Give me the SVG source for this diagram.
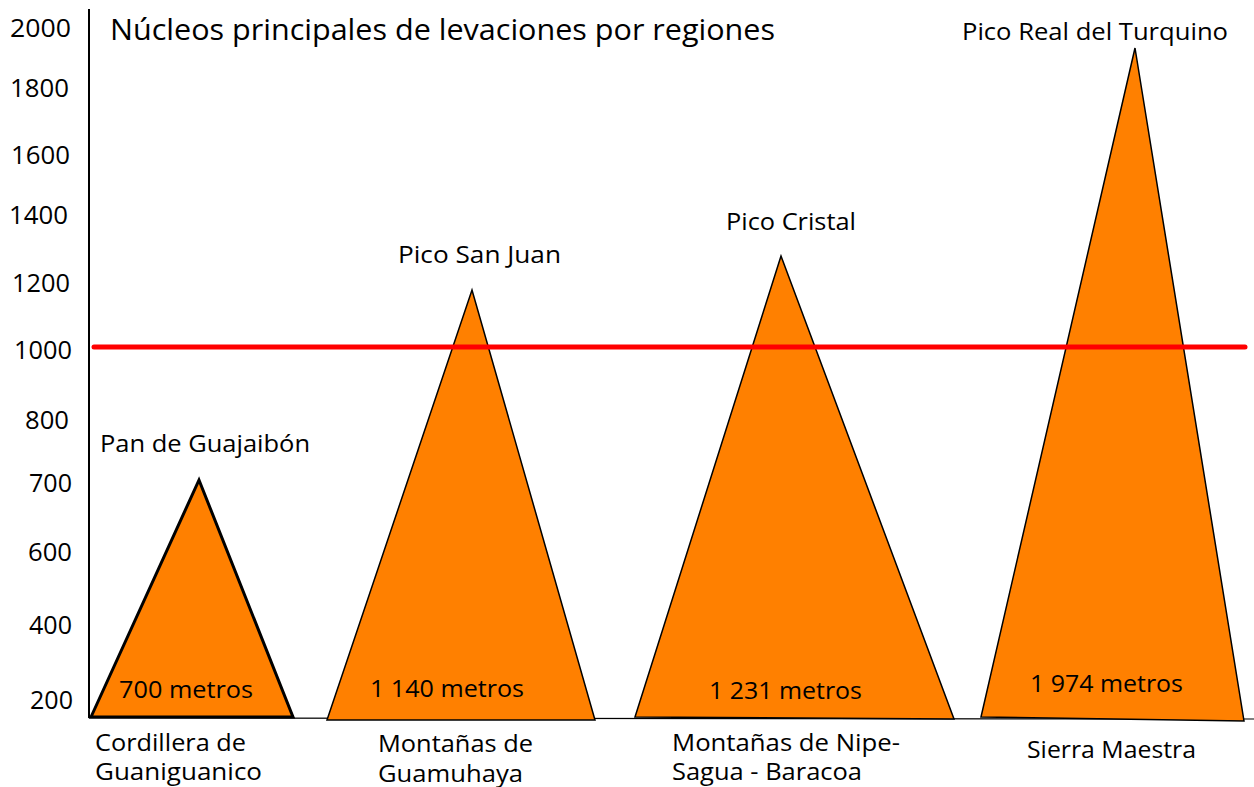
<svg xmlns="http://www.w3.org/2000/svg" width="1254" height="787" viewBox="0 0 1254 787">
<style>
text{font-family:"Open Sans","Noto Sans","DejaVu Sans",sans-serif;fill:#000;}
.ax{font-size:26px;text-anchor:end;}
.lb{font-size:23px;}
.peak{fill:#ff8000;stroke:#000;stroke-width:1.5;stroke-linejoin:miter;}
</style>
<rect width="1254" height="787" fill="#fff"/>
<g id="axes">
<line x1="89" y1="9" x2="89" y2="718" stroke="#000" stroke-width="2"/>
<line x1="89" y1="718" x2="1254" y2="719" stroke="#000" stroke-width="1.2"/>
<text class="ax" x="71" y="37" textLength="61" lengthAdjust="spacingAndGlyphs">2000</text>
<text class="ax" x="69" y="97" textLength="59" lengthAdjust="spacingAndGlyphs">1800</text>
<text class="ax" x="70" y="164" textLength="59" lengthAdjust="spacingAndGlyphs">1600</text>
<text class="ax" x="68" y="224" textLength="59" lengthAdjust="spacingAndGlyphs">1400</text>
<text class="ax" x="70" y="292" textLength="58" lengthAdjust="spacingAndGlyphs">1200</text>
<text class="ax" x="72" y="359" textLength="58" lengthAdjust="spacingAndGlyphs">1000</text>
<text class="ax" x="69" y="429" textLength="44" lengthAdjust="spacingAndGlyphs">800</text>
<text class="ax" x="72" y="492" textLength="43" lengthAdjust="spacingAndGlyphs">700</text>
<text class="ax" x="72" y="561" textLength="44" lengthAdjust="spacingAndGlyphs">600</text>
<text class="ax" x="72" y="634" textLength="43" lengthAdjust="spacingAndGlyphs">400</text>
<text class="ax" x="73" y="709" textLength="43" lengthAdjust="spacingAndGlyphs">200</text>
</g>
<text id="title" x="110" y="40" font-size="30" textLength="665" lengthAdjust="spacingAndGlyphs">Núcleos principales de levaciones por regiones</text>
<g id="guaniguanico">
<polygon class="peak" points="91,717 199,480 293,717" style="stroke-width:3"/>
<text class="lb" x="100" y="452" textLength="210" lengthAdjust="spacingAndGlyphs">Pan de Guajaibón</text>
<text class="lb" x="119" y="698" textLength="134" lengthAdjust="spacingAndGlyphs">700 metros</text>
<text class="lb" x="95" y="751" textLength="151" lengthAdjust="spacingAndGlyphs">Cordillera de</text>
<text class="lb" x="95" y="780" textLength="167" lengthAdjust="spacingAndGlyphs">Guaniguanico</text>
</g>
<g id="guamuhaya">
<polygon class="peak" points="327,720 472,290 595,720"/>
<text class="lb" x="398" y="263" textLength="163" lengthAdjust="spacingAndGlyphs">Pico San Juan</text>
<text class="lb" x="370" y="697" textLength="154" lengthAdjust="spacingAndGlyphs">1 140 metros</text>
<text class="lb" x="378" y="752" textLength="155" lengthAdjust="spacingAndGlyphs">Montañas de</text>
<text class="lb" x="378" y="782" textLength="145" lengthAdjust="spacingAndGlyphs">Guamuhaya</text>
</g>
<g id="nipe">
<polygon class="peak" points="635,717 781,256 954,719"/>
<text class="lb" x="726" y="230" textLength="130" lengthAdjust="spacingAndGlyphs">Pico Cristal</text>
<text class="lb" x="709" y="699" textLength="153" lengthAdjust="spacingAndGlyphs">1 231 metros</text>
<text class="lb" x="672" y="751" textLength="228" lengthAdjust="spacingAndGlyphs">Montañas de Nipe-</text>
<text class="lb" x="672" y="780" textLength="190" lengthAdjust="spacingAndGlyphs">Sagua - Baracoa</text>
</g>
<g id="maestra">
<polygon class="peak" points="981,717 1135,48 1244,721"/>
<text class="lb" x="962" y="40" textLength="266" lengthAdjust="spacingAndGlyphs">Pico Real del Turquino</text>
<text class="lb" x="1030" y="692" textLength="153" lengthAdjust="spacingAndGlyphs">1 974 metros</text>
<text class="lb" x="1027" y="758" textLength="169" lengthAdjust="spacingAndGlyphs">Sierra Maestra</text>
</g>
<g id="connectors">
<line x1="94" y1="347" x2="1245" y2="347" stroke="#ff0000" stroke-width="5" stroke-linecap="round"/>
</g>
</svg>
